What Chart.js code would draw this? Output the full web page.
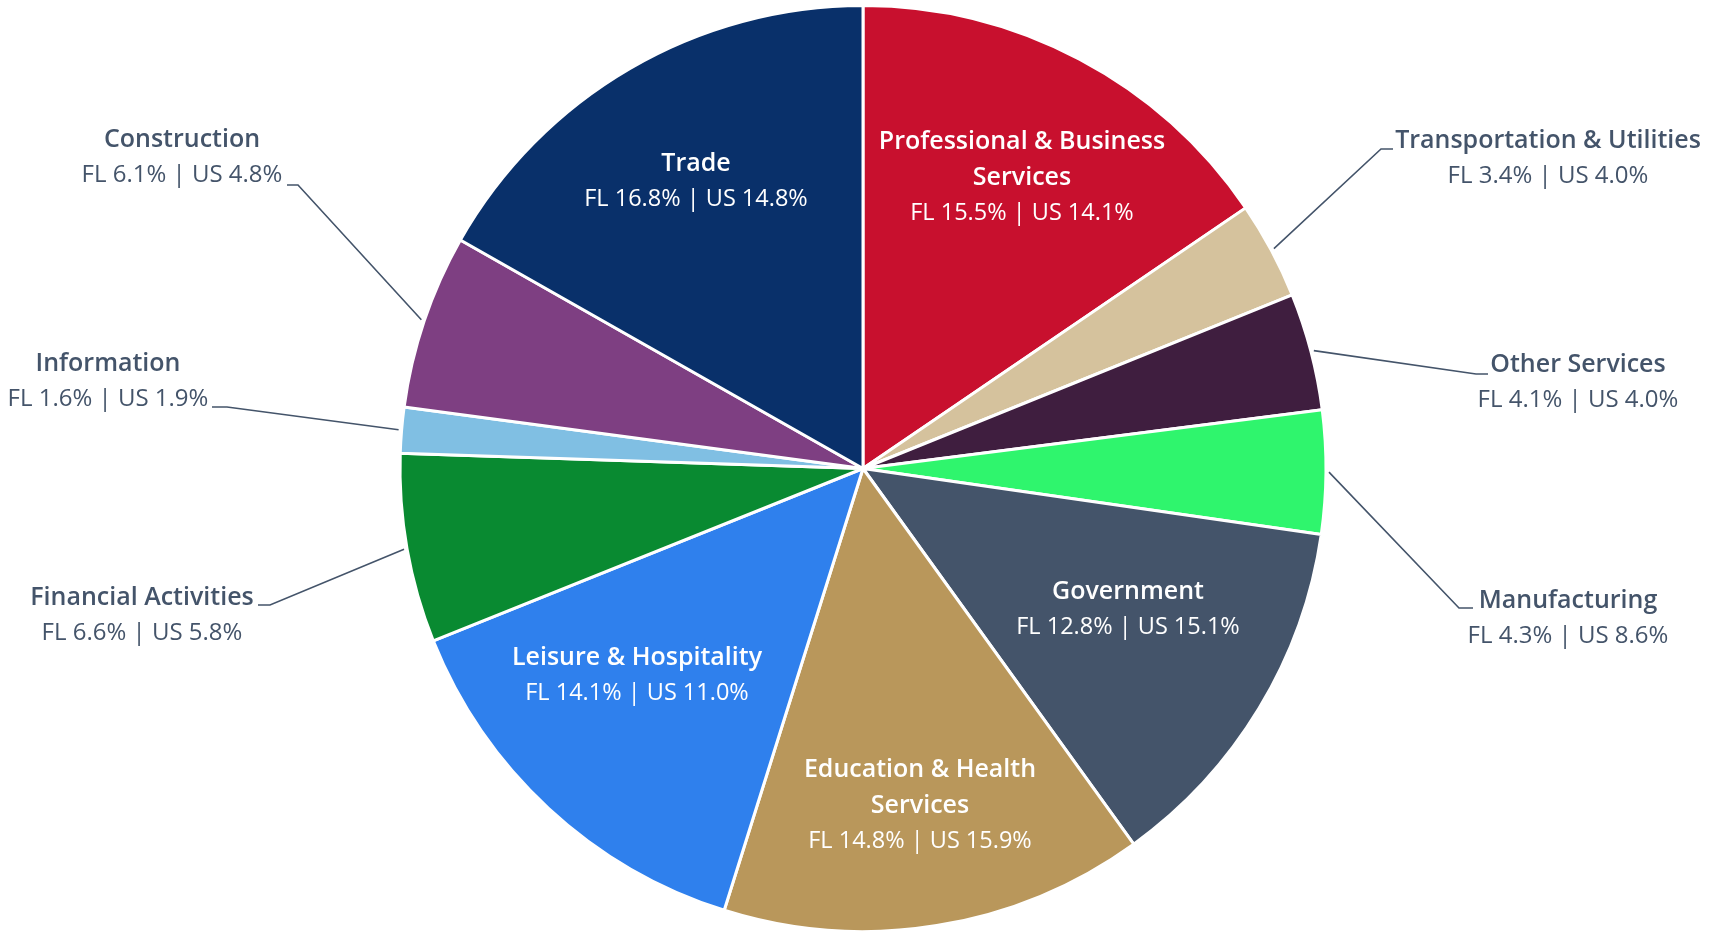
<!DOCTYPE html>
<html>
<head>
<meta charset="utf-8">
<title>Employment by Industry – Florida vs. US</title>
<script src="https://cdn.jsdelivr.net/npm/chart.js@4.4.1/dist/chart.umd.min.js"></script>
<style>
  html, body { margin: 0; padding: 0; background: #ffffff; overflow: hidden; }
  #wrap { position: relative; width: 1713px; height: 931px; }
</style>
</head>
<body>
<div id="wrap"><canvas id="chart"></canvas></div>
<script>
// Industry sectors, clockwise from 12 o'clock
const sectors = [
  'Professional & Business Services',
  'Transportation & Utilities',
  'Other Services',
  'Manufacturing',
  'Government',
  'Education & Health Services',
  'Leisure & Hospitality',
  'Financial Activities',
  'Information',
  'Construction',
  'Trade'
];

// Share of total employment (%)
const flShare = [15.5, 3.4, 4.1, 4.3, 12.8, 14.8, 14.1, 6.6, 1.6, 6.1, 16.8];
const usShare = [14.1, 4.0, 4.0, 8.6, 15.1, 15.9, 11.0, 5.8, 1.9, 4.8, 14.8];

// How each sector name is broken into lines
const titleLines = [
  ['Professional & Business', 'Services'],
  ['Transportation & Utilities'],
  ['Other Services'],
  ['Manufacturing'],
  ['Government'],
  ['Education & Health', 'Services'],
  ['Leisure & Hospitality'],
  ['Financial Activities'],
  ['Information'],
  ['Construction'],
  ['Trade']
];

const sliceColors = [
  '#C8102E', '#D5C29D', '#3F1E3F', '#2FF56D', '#44546A', '#B9975B',
  '#2F80ED', '#098A31', '#80BFE3', '#7E3F82', '#09306A'
];

// Label placement: inside labels give the first line's centre;
// outside labels give the title centre plus the leader elbow and end.
const labelLayout = [
  { inside: true, x: 1022, y: 142 },
  { x: 1548, y: 141, elbow: [1381, 149], end: [1393, 149] },
  { x: 1578, y: 365, elbow: [1476, 374], end: [1488, 374] },
  { x: 1568, y: 601, elbow: [1459, 608], end: [1473, 608] },
  { inside: true, x: 1128, y: 592 },
  { inside: true, x: 920, y: 770 },
  { inside: true, x: 637, y: 658 },
  { x: 142, y: 598, elbow: [270, 605], end: [258, 605] },
  { x: 108, y: 364, elbow: [227, 407], end: [212, 407] },
  { x: 182, y: 140, elbow: [298, 185], end: [287, 185] },
  { inside: true, x: 696, y: 164 }
];

const FONT = '"Open Sans", "Noto Sans", sans-serif';
const TEXT_DARK = '#44546A';
const LINE_GAP = 35.5;

function valueText(i) {
  return 'FL ' + flShare[i].toFixed(1) + '% | US ' + usShare[i].toFixed(1) + '%';
}

// Draws sector names, FL/US shares and leader lines
const sectorLabels = {
  id: 'sectorLabels',
  afterDatasetsDraw(chart) {
    const ctx = chart.ctx;
    const arcs = chart.getDatasetMeta(0).data;
    ctx.save();
    ctx.textAlign = 'center';
    ctx.textBaseline = 'middle';
    arcs.forEach((arc, i) => {
      const lay = labelLayout[i];
      const color = lay.inside ? '#ffffff' : TEXT_DARK;
      let y = lay.y;
      ctx.fillStyle = color;
      ctx.font = '600 25px ' + FONT;
      titleLines[i].forEach(line => {
        ctx.fillText(line, lay.x, y);
        y += LINE_GAP;
      });
      ctx.font = (lay.inside ? '400 23.5px ' : '400 24px ') + FONT;
      ctx.fillText(valueText(i), lay.x, y);

      if (!lay.inside) {
        const mid = (arc.startAngle + arc.endAngle) / 2;
        const r = arc.outerRadius + 3;
        ctx.beginPath();
        ctx.moveTo(arc.x + Math.cos(mid) * r, arc.y + Math.sin(mid) * r);
        ctx.lineTo(lay.elbow[0], lay.elbow[1]);
        ctx.lineTo(lay.end[0], lay.end[1]);
        ctx.strokeStyle = TEXT_DARK;
        ctx.lineWidth = 1.6;
        ctx.stroke();
      }
    });
    ctx.restore();
  }
};

new Chart(document.getElementById('chart'), {
  type: 'pie',
  data: {
    labels: sectors,
    datasets: [{
      data: flShare,
      backgroundColor: sliceColors,
      borderColor: '#ffffff',
      borderWidth: 3,
      radius: 463
    }]
  },
  options: {
    responsive: true,
    maintainAspectRatio: false,
    animation: false,
    layout: { padding: { left: 13, right: 0, top: 6, bottom: 0 } },
    plugins: {
      legend: { display: false },
      tooltip: { enabled: false }
    }
  },
  plugins: [sectorLabels]
});
</script>
</body>
</html>
